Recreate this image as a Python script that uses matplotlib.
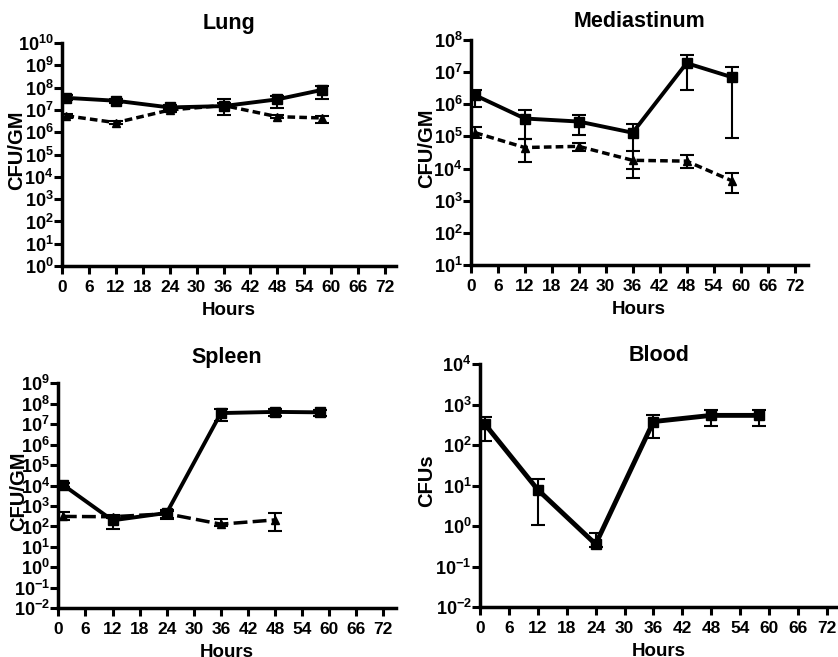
import matplotlib
matplotlib.use("Agg")
import matplotlib.pyplot as plt
import numpy as np

plt.rcParams['font.family'] = ['Liberation Sans', 'DejaVu Sans']
plt.rcParams['font.weight'] = 'bold'
plt.rcParams['mathtext.fontset'] = 'custom'
plt.rcParams['mathtext.rm'] = 'Liberation Sans:bold'
plt.rcParams['mathtext.it'] = 'Liberation Sans:bold'
plt.rcParams['mathtext.bf'] = 'Liberation Sans:bold'

hours = [1, 12, 24, 36, 48, 58]
xticks = list(range(0, 73, 6))

# Lung
lung_sq = [3.5e7, 2.6e7, 1.3e7, 1.5e7, 3.0e7, 8.0e7]
lung_sq_hi = [4.5e7, 3.2e7, 1.7e7, 3.0e7, 4.2e7, 1.2e8]
lung_sq_lo = [2.8e7, 2.1e7, 1.0e7, 6.0e6, 1.25e7, 3.2e7]
lung_tr = [5.5e6, 2.7e6, 1.0e7, 1.6e7, 5.0e6, 4.4e6]
lung_tr_hi = [6.5e6, 3.2e6, 1.2e7, 2.0e7, 6.0e6, 5.5e6]
lung_tr_lo = [4.6e6, 2.3e6, 8.5e6, 1.3e7, 4.2e6, 2.7e6]

# Mediastinum
med_sq = [1.9e6, 3.6e5, 2.9e5, 1.3e5, 1.9e7, 7.0e6]
med_sq_hi = [2.8e6, 6.7e5, 4.5e5, 2.4e5, 3.5e7, 1.4e7]
med_sq_lo = [8.5e5, 8.5e4, 1.1e5, 1.0e4, 2.8e6, 8.9e4]
med_tr = [1.3e5, 4.5e4, 4.9e4, 1.8e4, 1.7e4, 4.2e3]
med_tr_hi = [1.9e5, 8.0e4, 6.2e4, 3.4e4, 2.7e4, 7.2e3]
med_tr_lo = [9.0e4, 1.6e4, 3.4e4, 5.0e3, 1.07e4, 1.7e3]

# Spleen
spl_sq = [1.1e4, 2.0e2, 4.6e2, 3.5e7, 4.0e7, 3.8e7]
spl_sq_hi = [1.4e4, 3.0e2, 6.5e2, 5.5e7, 5.5e7, 5.0e7]
spl_sq_lo = [8.5e3, 7.5e1, 2.5e2, 1.4e7, 2.5e7, 2.6e7]
spl_hours_tr = [1, 12, 24, 36, 48]
spl_tr = [3.1e2, 3.0e2, 4.2e2, 1.3e2, 2.1e2]
spl_tr_hi = [5.0e2, 3.6e2, 6.0e2, 2.4e2, 4.6e2]
spl_tr_lo = [2.0e2, 2.5e2, 2.2e2, 1.0e2, 6.2e1]

# Blood
blood_sq = [330, 7.9, 0.36, 380, 540, 540]
blood_sq_hi = [500, 14.4, 0.69, 550, 740, 740]
blood_sq_lo = [123, 1.07, 0.30, 150, 300, 300]

W, H = 838, 657


def yerr(v, lo, hi):
    v = np.array(v)
    return [v - np.array(lo), np.array(hi) - v]


def style(ax, title, ylabel, ymin, ymax, xmax, title_dy, ylab_dx):
    ax.set_yscale('log')
    ax.set_ylim(10.0 ** ymin, 10.0 ** ymax)
    ax.set_xlim(0, xmax)
    ax.set_xticks(xticks)
    ax.set_xticklabels([str(t) for t in xticks], fontsize=12.5)
    exps = list(range(ymin, ymax + 1))
    ax.set_yticks([10.0 ** e for e in exps])
    ax.set_yticklabels([r'$10^{%d}$' % e for e in exps], fontsize=13)
    ax.minorticks_off()
    ax.spines['top'].set_visible(False)
    ax.spines['right'].set_visible(False)
    ax.spines['left'].set_linewidth(2.5)
    ax.spines['bottom'].set_linewidth(2.5)
    ax.tick_params(width=2.2, length=6, direction='out')
    ax.tick_params(axis='x', pad=4)
    ax.tick_params(axis='y', pad=0)
    bb = ax.get_position()
    wpx, hpx = bb.width * W, bb.height * H
    ax.text(0.5, 1 + title_dy / hpx, title, transform=ax.transAxes, ha='center', va='center',
            fontsize=15.5, fontweight='bold')
    ax.set_xlabel('Hours', fontsize=13.5, fontweight='bold')
    ax.xaxis.set_label_coords(0.5, -36 / hpx)
    ax.set_ylabel(ylabel, fontsize=14.5, fontweight='bold')
    ax.yaxis.label.set_verticalalignment('center')
    ax.yaxis.set_label_coords(-ylab_dx / wpx, 0.52)


fig = plt.figure(figsize=(8.38, 6.57), dpi=100)

ax1 = fig.add_axes([0.074, 0.595, 0.3986, 0.3394])
ax1.errorbar(hours, lung_sq, yerr=yerr(lung_sq, lung_sq_lo, lung_sq_hi), color='black',
             lw=2.8, marker='s', ms=7, capsize=5, elinewidth=1.5, capthick=1.5)
ax1.errorbar(hours, lung_tr, yerr=yerr(lung_tr, lung_tr_lo, lung_tr_hi), color='black',
             lw=2.5, ls=(0, (2.2, 1.2)), marker='^', ms=6, capsize=5, elinewidth=1.5, capthick=1.5)
style(ax1, 'Lung', 'CFU/GM', 0, 10, 74.45, 20, 45)

ax2 = fig.add_axes([0.5617, 0.5967, 0.402, 0.3425])
ax2.errorbar(hours, med_sq, yerr=yerr(med_sq, med_sq_lo, med_sq_hi), color='black',
             lw=2.8, marker='s', ms=7, capsize=5, elinewidth=1.5, capthick=1.5)
ax2.errorbar(hours, med_tr, yerr=yerr(med_tr, med_tr_lo, med_tr_hi), color='black',
             lw=2.5, ls=(0, (2.2, 1.2)), marker='^', ms=6, capsize=5, elinewidth=1.5, capthick=1.5)
style(ax2, 'Mediastinum', 'CFU/GM', 1, 8, 74.9, 18, 44)

ax3 = fig.add_axes([0.0696, 0.0741, 0.403, 0.3425])
ax3.errorbar(hours, spl_sq, yerr=yerr(spl_sq, spl_sq_lo, spl_sq_hi), color='black',
             lw=2.8, marker='s', ms=7, capsize=5, elinewidth=1.5, capthick=1.5)
ax3.errorbar(spl_hours_tr, spl_tr, yerr=yerr(spl_tr, spl_tr_lo, spl_tr_hi), color='black',
             lw=2.5, ls=(0, (4, 1.5)), marker='^', ms=6, capsize=5, elinewidth=1.5, capthick=1.5)
style(ax3, 'Spleen', 'CFU/GM', -2, 9, 74.8, 26, 40)

ax4 = fig.add_axes([0.5728, 0.0757, 0.4272, 0.3703])
ax4.errorbar(hours, blood_sq, yerr=yerr(blood_sq, blood_sq_lo, blood_sq_hi), color='black',
             lw=3.5, marker='s', ms=7, capsize=5, elinewidth=1.5, capthick=1.5)
style(ax4, 'Blood', 'CFUs', -2, 4, 74.3, 8, 53)

fig.savefig('out.png', dpi=100)
